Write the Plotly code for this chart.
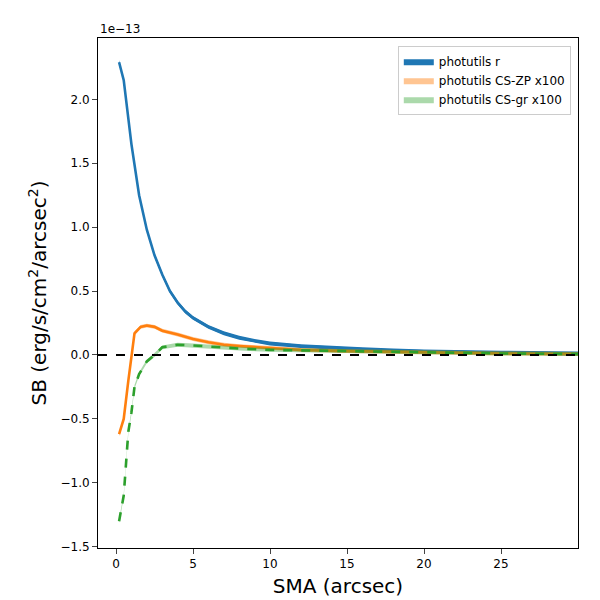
import plotly.graph_objects as go

# profiles in units of 1e-13
x_r = [0.2, 0.5, 1, 1.5, 2, 2.5, 3, 3.5, 4, 4.5, 5, 6, 7, 8, 9, 10, 12, 14, 16, 18, 20, 25, 30]
sb_r = [2.29, 2.15, 1.65, 1.25, 0.98, 0.78, 0.63, 0.5, 0.41, 0.34, 0.29, 0.22, 0.17, 0.135, 0.11,
        0.09, 0.07, 0.055, 0.045, 0.035, 0.028, 0.018, 0.012]
x_zp = [0.2, 0.5, 0.8, 1.2, 1.6, 2, 2.5, 3, 4, 5, 6, 7, 8, 10, 12, 15, 20, 25, 30]
sb_zp = [-0.62, -0.5, -0.2, 0.17, 0.22, 0.23, 0.22, 0.19, 0.16, 0.125, 0.1, 0.08, 0.07, 0.055,
         0.04, 0.03, 0.02, 0.012, 0.008]
x_gr = [0.2, 0.5, 0.8, 1, 1.2, 1.5, 2, 2.5, 3, 3.5, 4, 5, 6, 8, 10, 15, 20, 25, 30]
sb_gr = [-1.3, -1.1, -0.6, -0.45, -0.25, -0.15, -0.05, 0.0, 0.06, 0.07, 0.08, 0.075, 0.065, 0.05,
         0.04, 0.03, 0.02, 0.012, 0.008]

series = [
    ('photutils r', x_r, sb_r, '#1f77b4', 'rgba(31,119,180,1)', 'solid'),
    ('photutils CS-ZP x100', x_zp, sb_zp, '#ff7f0e', 'rgba(255,127,14,0.45)', 'solid'),
    ('photutils CS-gr x100', x_gr, sb_gr, '#2ca02c', 'rgba(44,160,44,0.4)', 'dash'),
]
hw = 0.015

fig = go.Figure()
fig.add_hline(y=0, line=dict(color='black', width=1.8, dash='dash'))
for name, xs, ys, col, fcol, dash in series:
    fig.add_trace(go.Scatter(x=xs + xs[::-1], y=[v + hw for v in ys] + [v - hw for v in ys[::-1]],
                             fill='toself', fillcolor=fcol, line=dict(width=0), mode='lines',
                             name=name, hoverinfo='skip'))
    fig.add_trace(go.Scatter(x=xs, y=ys, mode='lines', line=dict(color=col, width=2.6, dash=dash),
                             showlegend=False))

fig.update_layout(
    width=600, height=600, plot_bgcolor='white', paper_bgcolor='white',
    margin=dict(l=90, r=30, t=30, b=60, autoexpand=False),
    font=dict(family='DejaVu Sans', color='black', size=12),
    legend=dict(x=0.985, y=0.985, xanchor='right', yanchor='top', bordercolor='#cccccc',
                borderwidth=1, font=dict(size=12)),
    annotations=[dict(text='1e\u221213', xref='paper', yref='paper', x=0, y=1.0,
                      xanchor='left', yanchor='bottom', showarrow=False, font=dict(size=12))],
)
fig.update_xaxes(title=dict(text='SMA (arcsec)', font=dict(size=20), standoff=8), range=[-1.17, 30],
                 tickvals=[0, 5, 10, 15, 20, 25], ticks='outside', showgrid=False, zeroline=False,
                 showline=True, linecolor='black', mirror=True, automargin=False)
fig.update_yaxes(title=dict(text='SB (erg/s/cm<sup>2</sup>/arcsec<sup>2</sup>)', font=dict(size=20), standoff=8),
                 range=[-1.51, 2.48], tickvals=[-1.5, -1.0, -0.5, 0, 0.5, 1.0, 1.5, 2.0],
                 tickformat='.1f', ticks='outside', showgrid=False, zeroline=False,
                 showline=True, linecolor='black', mirror=True, automargin=False)
fig.write_html('out.html')
